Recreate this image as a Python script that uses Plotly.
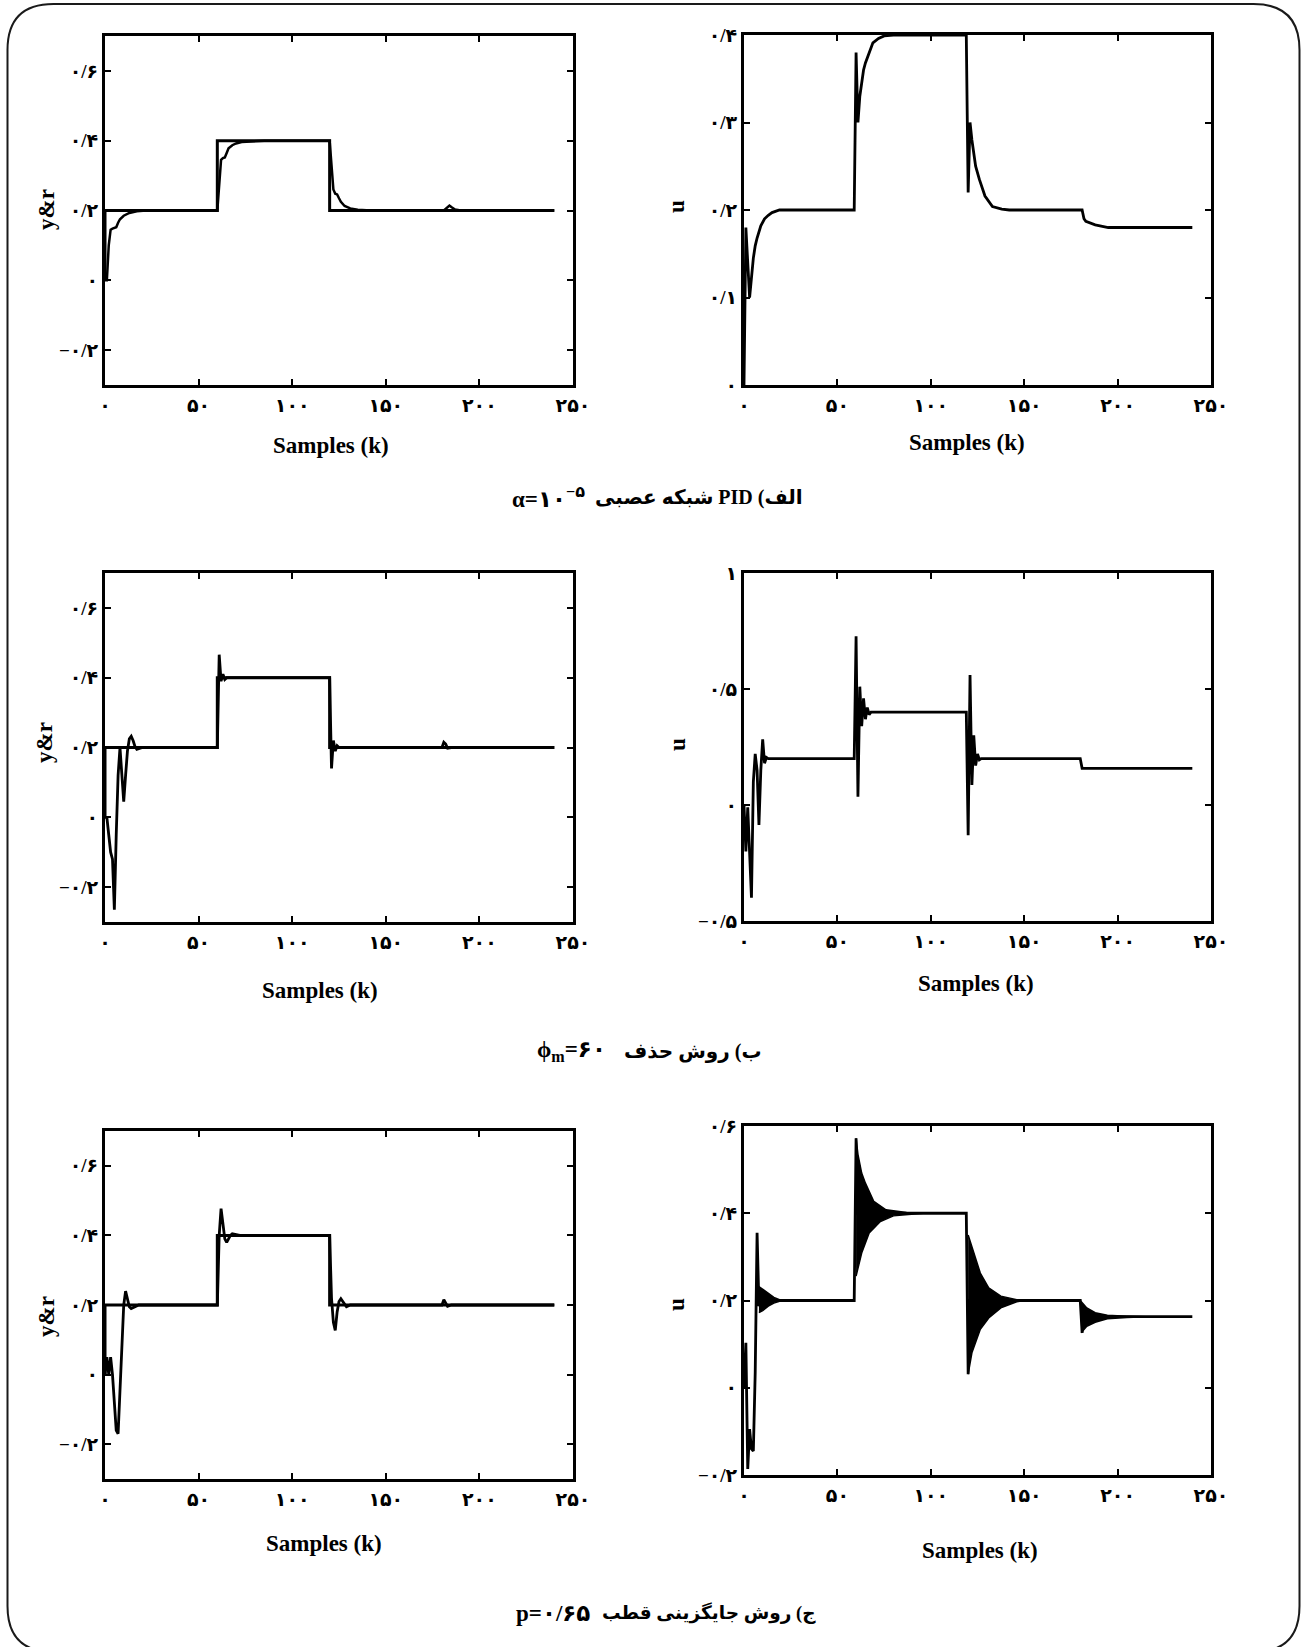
import plotly.graph_objects as go

W, H = 1304, 1647

# ---------------- data ----------------
# reference signal r (same in the three y&r panels)
ref_k = [0, 0, 60, 60, 120, 120, 240]
ref_v = [0.0, 0.2, 0.2, 0.4, 0.4, 0.2, 0.2]

# (a) neural-network PID, alpha = 1e-5
a_y_k = [0, 1, 2, 3, 4, 5, 6, 7, 8, 10, 13, 17, 22, 60, 61, 62, 63, 64, 65, 66, 68, 70, 73, 78, 85,
         120, 121, 122, 123, 124, 125, 126, 128, 131, 135, 142, 181, 183, 184, 185, 187, 190, 240]
a_y_v = [0.0, 0.0, 0.10, 0.145, 0.148, 0.15, 0.152, 0.165, 0.175, 0.185, 0.193, 0.198, 0.2, 0.2, 0.29,
         0.345, 0.35, 0.352, 0.365, 0.378, 0.387, 0.392, 0.396, 0.398, 0.4,
         0.4, 0.33, 0.26, 0.248, 0.246, 0.235, 0.225, 0.213, 0.206, 0.202, 0.2, 0.2, 0.208, 0.214,
         0.21, 0.203, 0.2, 0.2]
a_u_k = [0, 1, 3, 4, 5, 6, 7, 9, 11, 13, 15, 19, 59, 60, 61, 62, 63, 64, 65, 67, 69, 72, 75, 80,
         119, 120, 121, 122, 123, 124, 126, 129, 133, 138, 142, 181, 182, 183, 188, 195, 240]
a_u_v = [0.0, 0.18, 0.10, 0.125, 0.145, 0.159, 0.168, 0.182, 0.19, 0.194, 0.197, 0.2, 0.2, 0.38, 0.30,
         0.33, 0.345, 0.36, 0.368, 0.38, 0.391, 0.396, 0.399, 0.4,
         0.4, 0.22, 0.30, 0.28, 0.265, 0.25, 0.235, 0.216, 0.204, 0.201, 0.2, 0.2, 0.19, 0.187,
         0.183, 0.18, 0.18]

# (b) cancellation method, phi_m = 60
b_y_k = [0, 1, 2, 3, 4, 5, 6, 7, 8, 9, 10, 11, 12, 13, 14, 15, 16, 17, 18, 20, 60, 61, 62, 63, 64,
         65, 120, 121, 122, 123, 124, 125, 180, 181, 182, 183, 185, 240]
b_y_v = [0.0, 0.0, -0.05, -0.1, -0.12, -0.265, -0.05, 0.12, 0.2, 0.12, 0.045, 0.12, 0.19, 0.225,
         0.232, 0.22, 0.203, 0.195, 0.196, 0.2, 0.2, 0.466, 0.39, 0.41, 0.395, 0.4,
         0.4, 0.14, 0.22, 0.19, 0.205, 0.2, 0.2, 0.215, 0.21, 0.198, 0.2, 0.2]
b_u_k = [0, 1, 2, 3, 4, 5, 6, 7, 8, 9, 10, 11, 12, 13, 59, 60, 61, 62, 63, 64, 65, 66, 67, 68,
         119, 120, 121, 122, 123, 124, 125, 126, 127, 180, 181, 240]
b_u_v = [0.0, -0.2, -0.01, -0.22, -0.4, 0.1, 0.22, 0.15, -0.086, 0.15, 0.283, 0.18, 0.205, 0.2,
         0.2, 0.727, 0.036, 0.51, 0.34, 0.46, 0.37, 0.42, 0.39, 0.4,
         0.4, -0.13, 0.56, 0.086, 0.3, 0.17, 0.22, 0.195, 0.2, 0.2, 0.158, 0.158]

# (c) pole placement, p = 0.65
c_y_k = [0, 1, 2, 3, 4, 5, 6, 7, 8, 9, 10, 11, 12, 13, 14, 16, 18, 60, 61, 62, 63, 64, 65, 66, 67,
         68, 70, 72, 120, 121, 122, 123, 124, 125, 126, 127, 129, 131, 180, 181, 182, 183, 185, 240]
c_y_v = [0.0, 0.05, 0.0, 0.05, 0.0, -0.08, -0.16, -0.17, -0.05, 0.1, 0.2, 0.24, 0.22, 0.195, 0.19,
         0.195, 0.2, 0.2, 0.4, 0.477, 0.43, 0.39, 0.38, 0.39, 0.4, 0.405, 0.402, 0.4,
         0.4, 0.22, 0.15, 0.127, 0.18, 0.21, 0.218, 0.21, 0.195, 0.2, 0.2, 0.215, 0.205, 0.196, 0.2, 0.2]
c_u_k = [0, 1, 2, 3, 4, 5, 6, 7, 8, 9, 59, 60, 61, 119, 120, 121, 180, 181, 182, 240]
c_u_v = [0.0, 0.103, -0.186, -0.095, -0.14, -0.145, 0.035, 0.355, 0.187, 0.2, 0.2, 0.572, 0.4,
         0.4, 0.031, 0.2, 0.2, 0.126, 0.163, 0.163]
# envelopes of the fast oscillation bands in u (upper / lower)
c_bandA_k = [8, 10, 13, 16, 19, 22]
c_bandA_up = [0.232, 0.226, 0.215, 0.207, 0.202, 0.2]
c_bandA_lo = [0.172, 0.177, 0.187, 0.194, 0.198, 0.2]
c_bandB_k_up = [60, 61, 63, 65, 69.5, 76, 87, 96]
c_bandB_up = [0.572, 0.535, 0.492, 0.469, 0.427, 0.408, 0.402, 0.4]
c_bandB_k_lo = [60, 63, 67, 73, 80, 91, 96]
c_bandB_lo = [0.256, 0.309, 0.355, 0.381, 0.394, 0.399, 0.4]
c_bandC_k_up = [120, 123, 126.5, 131, 137.5, 146, 150]
c_bandC_up = [0.35, 0.31, 0.263, 0.229, 0.21, 0.202, 0.2]
c_bandC_k_lo = [120, 122, 126.5, 131, 137.5, 146, 150]
c_bandC_lo = [0.031, 0.08, 0.134, 0.16, 0.183, 0.197, 0.2]
c_bandD_k_up = [180, 183.5, 188, 194.5, 205, 215]
c_bandD_up = [0.2, 0.183, 0.172, 0.166, 0.164, 0.163]
c_bandD_k_lo = [180.5, 183.5, 188, 194.5, 205, 215]
c_bandD_lo = [0.126, 0.141, 0.15, 0.158, 0.161, 0.163]

# tick labels
x_tickvals = [0, 50, 100, 150, 200, 250]
x_ticktext = ["۰", "۵۰", "۱۰۰", "۱۵۰", "۲۰۰", "۲۵۰"]
yr_tickvals = [-0.2, 0, 0.2, 0.4, 0.6]
yr_ticktext = ["−۰/۲", "۰", "۰/۲", "۰/۴", "۰/۶"]
ua_tickvals = [0, 0.1, 0.2, 0.3, 0.4]
ua_ticktext = ["۰", "۰/۱", "۰/۲", "۰/۳", "۰/۴"]
ub_tickvals = [-0.5, 0, 0.5, 1]
ub_ticktext = ["−۰/۵", "۰", "۰/۵", "۱"]
uc_tickvals = [-0.2, 0, 0.2, 0.4, 0.6]
uc_ticktext = ["−۰/۲", "۰", "۰/۲", "۰/۴", "۰/۶"]

# captions: (Persian part, right-to-left) and (formula part, left-to-right)
caption_rtl = ["الف) PID شبکه عصبی", "ب) روش حذف", "ج) روش جایگزینی قطب"]
caption_ltr = ["α=۱۰<sup>−۵</sup>", "ϕ<sub>m</sub>=۶۰", "p=۰/۶۵"]

# ---------------- layout helpers ----------------
SERIF = "Liberation Serif, DejaVu Serif, DejaVu Sans"
frames = {  # pixel frames: left, right, top, bottom
    1: (105, 573, 36, 385),
    2: (744, 1211, 35, 385),
    3: (105, 573, 573, 922),
    4: (744, 1211, 573, 921),
    5: (105, 573, 1131, 1479),
    6: (744, 1211, 1126, 1475),
}
yinfo = {
    1: ([-0.3, 0.7], yr_tickvals, yr_ticktext),
    2: ([0, 0.4], ua_tickvals, ua_ticktext),
    3: ([-0.3, 0.7], yr_tickvals, yr_ticktext),
    4: ([-0.5, 1.0], ub_tickvals, ub_ticktext),
    5: ([-0.3, 0.7], yr_tickvals, yr_ticktext),
    6: ([-0.2, 0.6], uc_tickvals, uc_ticktext),
}

def px(x):
    return x / W

def py(y):
    return 1 - y / H

common = dict(showline=True, linecolor="black", linewidth=3, mirror="ticks",
              ticks="inside", ticklen=6, tickwidth=2, tickcolor="black",
              showgrid=False, zeroline=False,
              tickfont=dict(family=SERIF, size=19, color="black", weight="bold"))

layout = dict(width=W, height=H, autosize=False,
              margin=dict(l=0, r=0, t=0, b=0, autoexpand=False),
              paper_bgcolor="white", plot_bgcolor="white", showlegend=False)

for i, (l, r, t, b) in frames.items():
    s = "" if i == 1 else str(i)
    yr, tv, tt = yinfo[i]
    layout["xaxis" + s] = dict(common, domain=[px(l), px(r)], anchor="y" + s,
                               range=[0, 250], tickvals=x_tickvals, ticktext=x_ticktext,
                               ticklabelstandoff=1)
    layout["yaxis" + s] = dict(common, domain=[py(b), py(t)], anchor="x" + s,
                               range=yr, tickvals=tv, ticktext=tt)

fig = go.Figure(layout=layout)

def line(k, v, i, w=2.5):
    s = "" if i == 1 else str(i)
    fig.add_trace(go.Scatter(x=k, y=v, mode="lines", xaxis="x" + s, yaxis="y" + s,
                             line=dict(color="black", width=w), hoverinfo="skip"))

def band(k_lo, lo, k_up, up, i):
    s = "" if i == 1 else str(i)
    fig.add_trace(go.Scatter(x=k_lo, y=lo, mode="lines", xaxis="x" + s, yaxis="y" + s,
                             line=dict(color="black", width=1.5), hoverinfo="skip"))
    fig.add_trace(go.Scatter(x=k_up, y=up, mode="lines", xaxis="x" + s, yaxis="y" + s,
                             fill="tonexty", fillcolor="black",
                             line=dict(color="black", width=1.5), hoverinfo="skip"))

# panel 1: y & r
line(ref_k, ref_v, 1, 3)
line(a_y_k, a_y_v, 1, 2.5)
# panel 2: u
line(a_u_k, a_u_v, 2, 2.8)
# panel 3
line(ref_k, ref_v, 3, 3)
line(b_y_k, b_y_v, 3, 2.8)
# panel 4
line(b_u_k, b_u_v, 4, 2.8)
# panel 5
line(ref_k, ref_v, 5, 3)
line(c_y_k, c_y_v, 5, 2.8)
# panel 6
band(c_bandA_k, c_bandA_lo, c_bandA_k, c_bandA_up, 6)
band(c_bandB_k_lo, c_bandB_lo, c_bandB_k_up, c_bandB_up, 6)
band(c_bandC_k_lo, c_bandC_lo, c_bandC_k_up, c_bandC_up, 6)
band(c_bandD_k_lo, c_bandD_lo, c_bandD_k_up, c_bandD_up, 6)
line(c_u_k, c_u_v, 6, 2.8)

# axis titles
title_font = dict(family=SERIF, size=23, color="black", weight="bold")
ylabels = [("y&amp;r", 46, 210), ("u", 676, 207), ("y&amp;r", 44, 743),
           ("u", 678, 745), ("y&amp;r", 46, 1317), ("u", 676, 1305)]
xlabels = [(331, 445), (967, 443), (320, 990), (976, 983), (324, 1543), (980, 1550)]
ann = []
for txt, x, y in ylabels:
    ann.append(dict(text=txt, x=px(x), y=py(y), xref="paper", yref="paper",
                    showarrow=False, textangle=-90, font=title_font,
                    xanchor="center", yanchor="middle"))
for x, y in xlabels:
    ann.append(dict(text="Samples (k)", x=px(x), y=py(y), xref="paper", yref="paper",
                    showarrow=False, font=title_font, xanchor="center", yanchor="middle"))

# captions: formula on the left, Persian text on the right
cap_pos = [(587, 593, 497), (608, 622, 1051), (592, 600, 1613)]
cap_rtl_size = [20, 20, 18.5]
for rtl, ltr, (xl, xr, y), fs in zip(caption_rtl, caption_ltr, cap_pos, cap_rtl_size):
    ann.append(dict(text=ltr, x=px(xl), y=py(y), xref="paper", yref="paper",
                    showarrow=False, font=dict(family=SERIF, size=23, color="black", weight="bold"),
                    xanchor="right", yanchor="middle"))
    ann.append(dict(text="\u202B" + rtl + "\u202C", x=px(xr), y=py(y), xref="paper", yref="paper",
                    showarrow=False, font=dict(family=SERIF, size=fs, color="black", weight="bold"),
                    xanchor="left", yanchor="middle"))
fig.update_layout(annotations=ann)

# rounded outer border
x0, x1, y0, y1, rr = 7.5, 1299.5, 4.0, 1652.0, 46.0
def P(x, y):
    return f"{px(x):.6f},{py(y):.6f}"
path = (f"M {P(x0 + rr, y0)} L {P(x1 - rr, y0)} Q {P(x1, y0)} {P(x1, y0 + rr)} "
        f"L {P(x1, y1 - rr)} Q {P(x1, y1)} {P(x1 - rr, y1)} "
        f"L {P(x0 + rr, y1)} Q {P(x0, y1)} {P(x0, y1 - rr)} "
        f"L {P(x0, y0 + rr)} Q {P(x0, y0)} {P(x0 + rr, y0)} Z")
fig.add_shape(type="path", path=path, xref="paper", yref="paper",
              line=dict(color="#1a1a1a", width=2))

fig.write_html("out.html",
               post_script="document.body.style.margin='0';document.body.style.padding='0';"
                           "document.documentElement.style.overflow='hidden';")
